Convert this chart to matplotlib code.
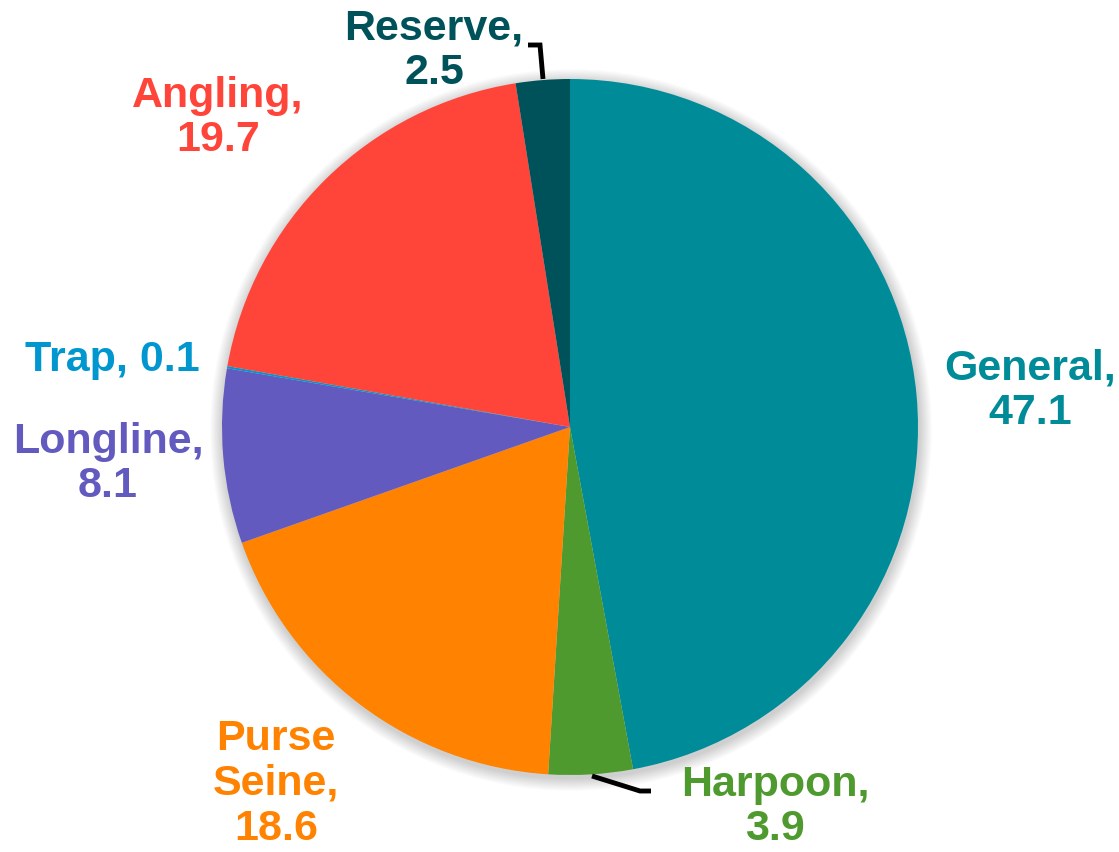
import matplotlib
matplotlib.use("Agg")
import matplotlib.pyplot as plt
from matplotlib.patches import Circle

categories = ["General", "Harpoon", "Purse\nSeine", "Longline", "Trap", "Angling", "Reserve"]
values = [47.1, 3.9, 18.6, 8.1, 0.1, 19.7, 2.5]
colors = ["#008B99", "#4E9A2F", "#FF8200", "#635AC0", "#0096D0", "#FF453A", "#00525A"]

W, H = 1119, 853
fig = plt.figure(figsize=(W / 100, H / 100), dpi=100)
ax = fig.add_axes([0, 0, 1, 1])

cx, cy, r = 570, H - 428, 348

# soft shadow
for i in range(16):
    ax.add_patch(Circle((cx + 1, cy - 3), r + 1 + i * 0.8, color="black",
                        alpha=0.012, lw=0, zorder=0))

ax.pie(values, colors=colors, startangle=90, counterclock=False,
       center=(cx, cy), radius=r, wedgeprops=dict(linewidth=0),
       normalize=True)

# label positions (pixel coords, top-left origin)
label_pos = {
    "General": (1030, 391),
    "Harpoon": (775, 807),
    "Purse\nSeine": (276, 784),
    "Longline": (108, 464),
    "Trap": (112, 360),
    "Angling": (218, 118),
    "Reserve": (434, 51),
}
for cat, val, col in zip(categories, values, colors):
    x, y = label_pos[cat]
    if cat == "Trap":
        txt = f"{cat}, {val}"
    else:
        txt = f"{cat},\n{val}"
    ax.text(x, H - y, txt, ha="center", va="center", color=col,
            fontsize=31, fontweight="bold", family="Liberation Sans",
            linespacing=1.15, zorder=5)

# leader lines
ax.plot([543, 540, 528], [H - 80, H - 46, H - 46], color="black", lw=3.5,
        solid_joinstyle="miter", solid_capstyle="butt", zorder=4)
ax.plot([592, 640, 651], [H - 777, H - 792, H - 792], color="black", lw=3.5,
        solid_joinstyle="miter", solid_capstyle="butt", zorder=4)

ax.set_xlim(0, W)
ax.set_ylim(0, H)
ax.set_aspect("auto")
ax.axis("off")
fig.savefig("out.png", dpi=100)
